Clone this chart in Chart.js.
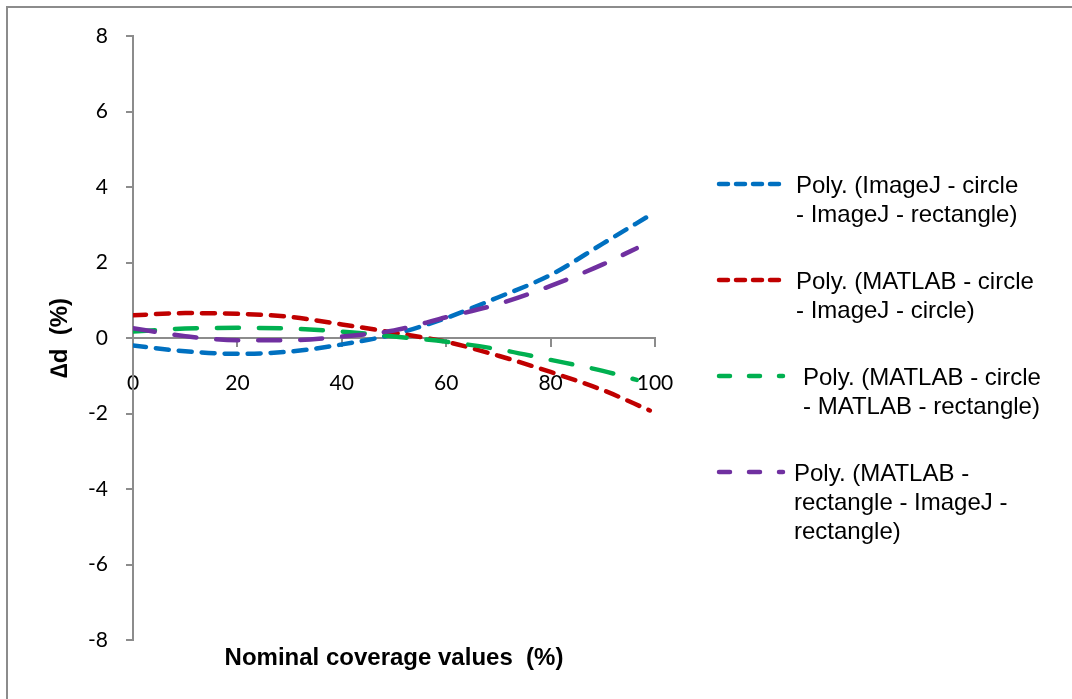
<!DOCTYPE html>
<html><head><meta charset="utf-8">
<script src="https://cdn.jsdelivr.net/npm/chart.js@4.4.1/dist/chart.umd.min.js"></script>
<style>
html,body{margin:0;padding:0;background:#fff;}
#wrap{position:relative;width:1072px;height:699px;overflow:hidden;background:#fff;}
#frame{position:absolute;left:6px;top:6px;width:1200px;height:800px;border:2px solid #8c8c8c;box-sizing:border-box;}
canvas{position:absolute;left:0;top:0;}
</style></head><body>
<div id="wrap"><div id="frame"></div><canvas id="c" width="1072" height="699"></canvas></div>
<script>
// ---- data ----
const xLong  = [0, 10, 20, 30, 40, 50, 60, 70, 80, 90, 99];
const xShort = [0, 10, 20, 30, 40, 50, 60, 70, 80, 90, 96.5];
const blueY   = [-0.2, -0.35, -0.42, -0.36, -0.17, 0.1, 0.53, 1.08, 1.67, 2.5, 3.25];
const redY    = [0.6, 0.66, 0.64, 0.56, 0.36, 0.14, -0.1, -0.47, -0.9, -1.38, -1.92];
const greenY  = [0.17, 0.25, 0.27, 0.25, 0.17, 0.04, -0.1, -0.3, -0.58, -0.87, -1.11];
const purpleY = [0.26, 0.05, -0.06, -0.06, 0.04, 0.2, 0.55, 0.9, 1.38, 1.95, 2.38];
const xTickValues = [0, 20, 40, 60, 80, 100];
const yTickValues = [-8, -6, -4, -2, 0, 2, 4, 6, 8];
const seriesLabels = [
  ["Poly. (ImageJ - circle", "- ImageJ - rectangle)"],
  ["Poly. (MATLAB - circle", "- ImageJ - circle)"],
  ["Poly. (MATLAB - circle", "- MATLAB - rectangle)"],
  ["Poly. (MATLAB -", "rectangle - ImageJ -", "rectangle)"]
];
const xTitle = "Nominal coverage values  (%)";
const yTitle = "\u2206d  (%)";

const toPts = (xs, ys) => xs.map((x, i) => ({x: x, y: ys[i]}));
const colors = ['#0070c0', '#c00000', '#00b050', '#7030a0'];
const shortDash = [13, 10];
const longDash = [22, 20];
const legendDash = [[9, 8], [9, 8], [11, 19], [11, 19]];
const legendTextX = [796, 796, 803, 794];

function ds(i, xs, ys, dash, order) {
  return {
    label: seriesLabels[i].join(' '),
    data: toPts(xs, ys),
    borderColor: colors[i],
    backgroundColor: colors[i],
    borderWidth: 4.5,
    borderDash: dash,
    borderCapStyle: 'round',
    pointRadius: 0,
    fill: false,
    cubicInterpolationMode: 'monotone',
    order: order
  };
}

const extras = {
  id: 'extras',
  afterDraw(chart) {
    const ctx = chart.ctx;
    const ca = chart.chartArea;
    ctx.save();
    // x title
    ctx.fillStyle = '#000';
    ctx.font = 'bold 24px "Liberation Sans", Arial, sans-serif';
    ctx.textAlign = 'center';
    ctx.textBaseline = 'middle';
    ctx.fillText(xTitle, (ca.left + ca.right) / 2, 658);
    // y title
    ctx.save();
    ctx.translate(60, (ca.top + ca.bottom) / 2);
    ctx.rotate(-Math.PI / 2);
    ctx.fillText(yTitle, 0, 0);
    ctx.restore();
    // legend
    ctx.font = '24px "Liberation Sans", Arial, sans-serif';
    ctx.textAlign = 'left';
    chart.data.datasets.forEach((d, i) => {
      const y = 184 + i * 96;
      ctx.save();
      ctx.strokeStyle = d.borderColor;
      ctx.lineWidth = 4.5;
      ctx.lineCap = 'round';
      ctx.setLineDash(legendDash[i]);
      ctx.beginPath();
      ctx.moveTo(719, y);
      ctx.lineTo(783, y);
      ctx.stroke();
      ctx.restore();
      seriesLabels[i].forEach((t, k) => {
        ctx.fillText(t, legendTextX[i], y + 2 + k * 29);
      });
    });
    ctx.restore();
  }
};

new Chart(document.getElementById('c'), {
  type: 'line',
  data: {
    datasets: [
      ds(0, xLong, blueY, shortDash, 3),
      ds(1, xLong, redY, shortDash, 2),
      ds(2, xShort, greenY, longDash, 1),
      ds(3, xShort, purpleY, longDash, 0)
    ]
  },
  options: {
    responsive: false,
    animation: false,
    events: [],
    layout: { padding: { left: 0, right: 417, top: 36, bottom: 59 } },
    plugins: { legend: { display: false }, tooltip: { enabled: false }, title: { display: false } },
    scales: {
      x: {
        type: 'linear',
        position: { y: 0 },
        min: 0, max: 100,
        afterBuildTicks: s => { s.ticks = xTickValues.map(v => ({value: v})); },
        afterFit: s => { s.height = 0; },
        grid: { drawOnChartArea: false, drawTicks: true, tickLength: 8, color: '#8c8c8c', lineWidth: 2 },
        border: { display: true, color: '#8c8c8c', width: 2 },
        ticks: { color: '#000', font: { family: 'Lato, "Open Sans", sans-serif', size: 21 }, padding: 25, maxRotation: 0, autoSkip: false }
      },
      y: {
        type: 'linear',
        position: 'left',
        min: -8, max: 8,
        afterBuildTicks: s => { s.ticks = yTickValues.map(v => ({value: v})); },
        afterFit: s => { s.width = 133; },
        grid: { drawOnChartArea: false, drawTicks: true, tickLength: 7, color: '#8c8c8c', lineWidth: 2 },
        border: { display: true, color: '#8c8c8c', width: 2 },
        ticks: { color: '#000', font: { family: 'Lato, "Open Sans", sans-serif', size: 21 }, padding: 18 }
      }
    }
  },
  plugins: [extras]
});
</script>
</body></html>
